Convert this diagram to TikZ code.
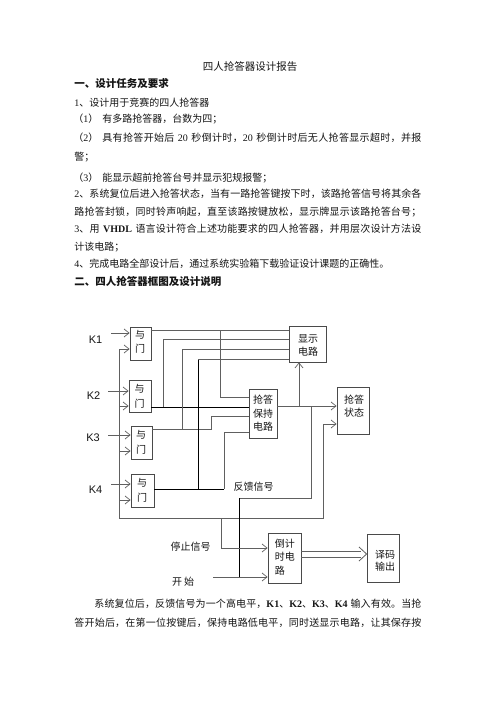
\documentclass[tikz,border=0pt]{standalone}
\usepackage{fontspec}
\setmainfont{Liberation Serif}
\newfontfamily\cjk{Noto Sans CJK SC}
\newfontfamily\arial{Liberation Sans}
\usetikzlibrary{arrows.meta}
\definecolor{ln}{HTML}{606060}
\definecolor{bx}{HTML}{4A4A4A}
\definecolor{tx}{HTML}{151515}
\newcommand\en[1]{{\rmfamily #1}}
\newcommand\jl[2]{\hbox to #1pt{#2}}
% inter-character glue between CJK characters (for justified lines)
\newXeTeXintercharclass\myhanclass
\makeatletter
\def\my@setrange#1#2{\count@=#1\relax
  \loop\XeTeXcharclass\count@=\myhanclass\advance\count@ 1\relax
  \ifnum\count@<#2\repeat}
\my@setrange{"4E00}{"A000}
\my@setrange{"3000}{"3040}
\my@setrange{"FF00}{"FFF0}
\makeatother
\XeTeXinterchartoks\myhanclass\myhanclass={\hskip0pt plus 1pt\relax}
\XeTeXinterchartokenstate=1
\begin{document}
\begin{tikzpicture}[x=1pt,y=-1pt,line width=0.8pt,
  >={Straight Barb[length=5pt,width=8pt,line width=0.7pt]},
  body/.style={anchor=base west,inner sep=0pt,font=\cjk\fontsize{10}{12}\selectfont,text=tx},
  head/.style={body,font=\cjk\bfseries\fontsize{10.5}{12}\selectfont},
  box/.style={draw=bx,line width=0.8pt,inner sep=0pt},
  dt/.style={inner sep=0pt,font=\cjk\fontsize{10}{13.5}\selectfont,text=tx,align=center},
  kl/.style={inner sep=0pt,font=\arial\fontsize{11}{12}\selectfont,text=tx},
  wire/.style={draw=ln,line width=0.8pt},
  bwire/.style={draw=black,line width=0.9pt}]
\useasboundingbox[fill=white] (0,0) rectangle (496,702);

% ---------- text ----------
\node[body,anchor=base,font=\cjk\fontsize{10.5}{12}\selectfont] (title) at (250,70) {四人抢答器设计报告};
\node[head] (h1) at (74,87) {一、设计任务及要求};
\node[body] (l1) at (74,106) {\en{1}、设计用于竞赛的四人抢答器};
\node[body] (l2) at (73,122) {（\en{1}）\hspace{4pt}有多路抢答器，台数为四；};
\node[body] (l3) at (73,141) {\jl{348}{（\en{2}）\hspace{4pt}具有抢答开始后\hspace{3.5pt}\en{20}\hspace{3.5pt}秒倒计时，\en{20}\hspace{3.5pt}秒倒计时后无人抢答显示超时，并报}};
\node[body] (l4) at (74,160) {警；};
\node[body] (l5) at (73,181) {（\en{3}）\hspace{4pt}能显示超前抢答台号并显示犯规报警；};
\node[body] (l6) at (74,197) {\jl{347}{\en{2}、系统复位后进入抢答状态，当有一路抢答键按下时，该路抢答信号将其余各}};
\node[body] (l7) at (74,215) {\jl{347}{路抢答封锁，同时铃声响起，直至该路按键放松，显示牌显示该路抢答台号；}};
\node[body] (l8) at (74,232) {\jl{347}{\en{3}、用\hspace{3.5pt}\en{\textbf{VHDL}}\hspace{3.5pt}语言设计符合上述功能要求的四人抢答器，并用层次设计方法设}};
\node[body] (l9) at (74,250) {计该电路；};
\node[body] (l10) at (74,267) {\en{4}、完成电路全部设计后，通过系统实验箱下载验证设计课题的正确性。};
\node[head] (h2) at (74,285) {二、四人抢答器框图及设计说明};
\node[body] (p1) at (94,607) {\jl{327}{系统复位后，反馈信号为一个高电平，\en{\textbf{K1}}、\en{\textbf{K2}}、\en{\textbf{K3}}、\en{\textbf{K4}}\hspace{3pt}输入有效。当抢}};
\node[body] (p2) at (74,626) {\jl{347}{答开始后，在第一位按键后，保持电路低电平，同时送显示电路，让其保存按}};

% ---------- boxes ----------
\node[box,minimum width=21,minimum height=33] (g1) at (140.5,343.5) {};
\node[box,minimum width=22,minimum height=32] (g2) at (140,396) {};
\node[box,minimum width=21,minimum height=33] (g3) at (141.5,442.5) {};
\node[box,minimum width=23,minimum height=33] (g4) at (142.5,490.5) {};
\node[box,minimum width=37,minimum height=36] (disp) at (307.5,344) {};
\node[box,minimum width=28,minimum height=49] (hold) at (263,413.5) {};
\node[box,minimum width=32,minimum height=47] (state) at (353,410.5) {};
\node[box,minimum width=33,minimum height=50] (timer) at (284.5,558) {};
\node[box,minimum width=32,minimum height=48] (dec) at (383,558) {};

\node[dt,font=\cjk\fontsize{10}{14.5}\selectfont] (g1t) at (140,342) {与\\门};
\node[dt,font=\cjk\fontsize{10}{14.5}\selectfont] (g2t) at (139.5,396.5) {与\\门};
\node[dt,font=\cjk\fontsize{10}{14.5}\selectfont] (g3t) at (141,442.5) {与\\门};
\node[dt,font=\cjk\fontsize{10}{14.5}\selectfont] (g4t) at (142,490.5) {与\\门};
\node[dt,font=\cjk\fontsize{10}{13}\selectfont] (dispt) at (308,345.5) {显示\\电路};
\node[dt] (holdt) at (263,413.5) {抢答\\保持\\电路};
\node[dt,font=\cjk\fontsize{10}{13}\selectfont] (statet) at (354,406.5) {抢答\\状态};
\node[dt,align=left,anchor=west] (timert) at (274.5,557) {倒计\\时电\\路};
\node[dt,font=\cjk\fontsize{10}{12.5}\selectfont] (dect) at (385,561) {译码\\输出};

\node[kl] (k1) at (95.5,339.5) {K1};
\node[kl] (k2) at (93.5,396) {K2};
\node[kl] (k3) at (93,438) {K3};
\node[kl] (k4) at (95.5,490) {K4};
\node[dt] (fb) at (253.5,487) {反馈信号};
\node[dt] (stop) at (190.5,547) {停止信号};
\node[dt] (start) at (183,582) {开\hspace{2pt}始};

% ---------- inputs ----------
\draw[wire,->] (111,333) -- (g1.west|-0,333);
\draw[wire,->] (108,391) -- (g2.west|-0,391);
\draw[wire,->] (108,435) -- (g3.west|-0,435);
\draw[wire,->] (111,484) -- (g4.west|-0,484);
% feedback loop from state
\draw[wire,<->] (g1.west|-0,349) -| (119,518) -| (323,424) -- (state.west|-0,424);
\draw[wire,->] (119,406) -- (g2.west|-0,406);
\draw[wire,->] (119,451) -- (g3.west|-0,451);
\draw[wire,->] (119,500) -- (g4.west|-0,500);

% ---------- gate outputs ----------
\draw[wire] (g1.east|-0,330) -- (disp.west|-0,330);
\draw[wire] (220,330) |- (hold.west|-0,397);
\draw[bwire] (g2.east|-0,407) -- (hold.west|-0,407);
\draw[wire] (163,407) |- (disp.west|-0,339);
\draw[wire] (g3.east|-0,429) -| (211,416) -- (hold.west|-0,416);
\draw[wire] (182,429) |- (disp.west|-0,349);
\draw[bwire] (g4.east|-0,489) -- (224,489);
\draw[wire] (224,489) |- (hold.west|-0,432);
\draw[bwire] (198,489) -- (198,359);
\draw[wire] (198,359) -- (disp.west|-0,359);

% ---------- hold output ----------
\draw[wire,->] (hold.east|-0,406) -- (state.west|-0,406);
\draw[wire,->] (299,406) -- (disp.south-|299,0);
\draw[wire] (311,406) |- (239,498);
\draw[bwire] (239,498) -- (239,577);

% ---------- timer ----------
\draw[wire,->] (221,518) |- (timer.west|-0,548);
\draw[wire,->] (213,577) -- (timer.west|-0,577);
\draw[wire] (timer.east|-0,551) -- (361,551);
\draw[wire] (timer.east|-0,557) -- (361,557);
\draw[wire] (359,547) -- (dec.west|-0,554) -- (359,561);
\end{tikzpicture}
\end{document}
